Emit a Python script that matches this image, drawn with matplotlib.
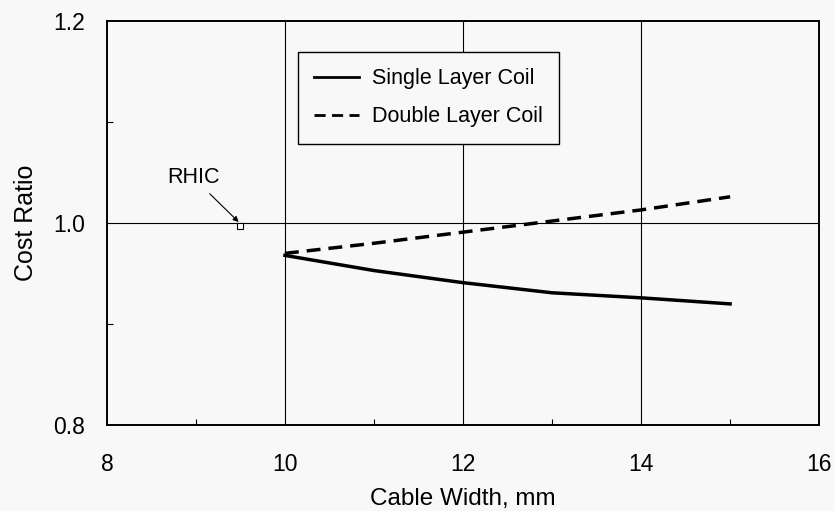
import matplotlib
matplotlib.use("Agg")
import matplotlib.pyplot as plt
from matplotlib.ticker import MultipleLocator

plt.rcParams['font.family'] = ['Liberation Sans', 'DejaVu Sans']

cable_width = [10, 11, 12, 13, 14, 15]
single_layer = [0.968, 0.953, 0.941, 0.931, 0.926, 0.920]
double_layer = [0.970, 0.980, 0.991, 1.002, 1.013, 1.026]
rhic_x = [9.5]
rhic_y = [0.997]
x_ticks = [8, 10, 12, 14, 16]
y_ticks = [0.8, 1.0, 1.2]

bg = '#f8f8f8'
fig = plt.figure(figsize=(8.35, 5.11), dpi=100, facecolor=bg)
ax = fig.add_axes([0.128, 0.168, 0.853, 0.791], facecolor=bg)

ax.plot(cable_width, single_layer, color='black', lw=2.5, label='Single Layer Coil', zorder=3)
ax.plot(cable_width, double_layer, color='black', lw=2.5, ls=(0, (4, 2.3)), label='Double Layer Coil', zorder=3)
ax.plot(rhic_x, rhic_y, marker='s', ms=4, mfc='white', mec='black', mew=0.8, ls='none', zorder=4)
ax.annotate('RHIC', xy=(rhic_x[0] - 0.02, rhic_y[0] + 0.004), xytext=(8.97, 1.045),
            fontsize=15.5, ha='center', va='center',
            arrowprops=dict(arrowstyle='-|>', color='black', lw=0.8, mutation_scale=8,
                            shrinkA=3, shrinkB=0))

ax.set_xlim(8, 16)
ax.set_ylim(0.8, 1.2)
ax.set_xticks(x_ticks)
ax.set_yticks(y_ticks)
ax.set_xticklabels([str(v) for v in x_ticks])
ax.set_yticklabels([f'{v:.1f}' for v in y_ticks])
ax.xaxis.set_minor_locator(MultipleLocator(1))
ax.yaxis.set_minor_locator(MultipleLocator(0.1))
ax.tick_params(which='both', direction='in', length=4, width=0.8, colors='black')
ax.tick_params(which='major', length=0, labelsize=16.5)
ax.tick_params(axis='x', which='major', pad=20)
ax.tick_params(axis='y', which='major', pad=16)

for v in [10, 12, 14]:
    ax.axvline(v, color='black', lw=0.8, zorder=1)
ax.axhline(1.0, color='black', lw=0.8, zorder=1)

for s in ax.spines.values():
    s.set_linewidth(1.4)
    s.set_color('black')

ax.set_xlabel('Cable Width, mm', fontsize=17.5, labelpad=8.5)
ax.set_ylabel('Cost Ratio', fontsize=18, labelpad=11)

leg = ax.legend(loc='upper left', bbox_to_anchor=(0.268, 0.923), borderaxespad=0,
                fontsize=15.5, frameon=True, fancybox=False, edgecolor='black',
                facecolor=bg, framealpha=1, handlelength=2.1, handletextpad=0.6,
                labelspacing=0.8, borderpad=0.75)
leg.get_frame().set_linewidth(1.0)
for h in leg.get_lines():
    h.set_linewidth(2.0)

fig.savefig('out.png', dpi=100, facecolor=bg)
